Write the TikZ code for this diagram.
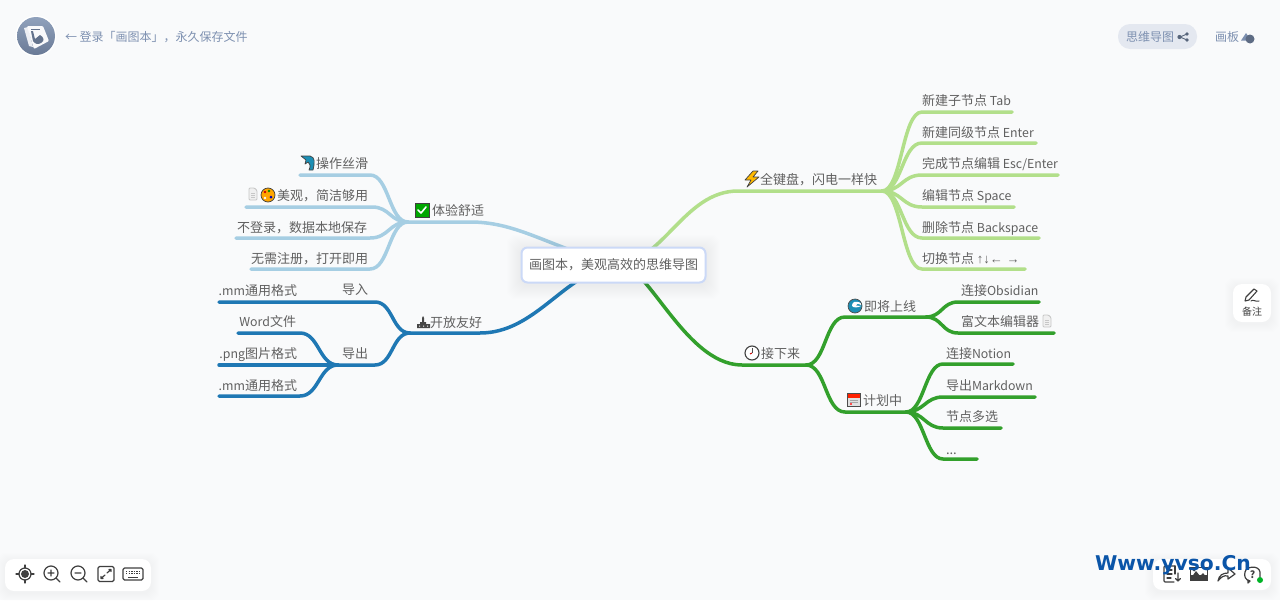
\documentclass[tikz,border=0pt]{standalone}
\usepackage{fontspec}
\setmainfont{Noto Sans CJK SC}
\newfontfamily\wmfont{DejaVu Sans}
\newfontfamily\lat{Noto Sans CJK SC}[Scale=0.95]
\newfontfamily\arw{Liberation Sans}
\usetikzlibrary{shapes.geometric}
\definecolor{bgc}{HTML}{F9FAFB}
\definecolor{txt}{HTML}{606060}
\definecolor{hdr}{HTML}{7D90B0}
\definecolor{lb}{HTML}{A6CEE3}
\definecolor{db}{HTML}{1F78B4}
\definecolor{lg}{HTML}{B2DF8A}
\definecolor{dg}{HTML}{33A02C}
\definecolor{ico}{HTML}{3F3F3F}
\definecolor{rootedge}{HTML}{CBD9F7}
\definecolor{teal}{HTML}{1C8FB5}
\definecolor{pill}{HTML}{E4E8F0}
\definecolor{mark}{HTML}{0B55A8}
\tikzset{
  x=1pt,y=-1pt,
  every node/.style={inner sep=0pt,outer sep=0pt},
  lbl/.style={text=txt,font=\fontsize{13}{15}\selectfont},
  lw/.style={lbl,anchor=base west},
  le/.style={lbl,anchor=base east},
  hd/.style={text=hdr,font=\fontsize{12}{14}\selectfont,anchor=base west},
  wire/.style={line width=3.5pt,line cap=round,line join=round},
  lbw/.style={wire,draw=lb},
  dbw/.style={wire,draw=db},
  lgw/.style={wire,draw=lg},
  dgw/.style={wire,draw=dg},
  tool/.style={draw=ico,line width=1.2pt,line cap=round,line join=round},
  panel/.style={fill=white,rounded corners=9pt,draw=none},
}
% #1 name, #2 style, #3 free x, #4 knee x, #5 y, #6 junction, #7 control offset
\newcommand\twig[7]{%
  \coordinate (#1-e) at (#3,#5);
  \coordinate (#1-k) at (#4,#5);
  \draw[#2] (#1-e) -- (#1-k) .. controls +(#7,0) and +(-#7,0) .. (#6);
}
\newcommand\softbox[5]{% x1 y1 x2 y2 spread
  \foreach \s in {1,...,#5}{
    \fill[hdr,opacity=0.006,rounded corners=9pt]
      (#1-\s,#2-\s+2) rectangle (#3+\s,#4+\s+2);
  }
}
\newcommand\docicon[2]{%
  \begin{scope}[shift={(#1,#2)}]
    \draw[black!22,fill=black!6,line width=0.9pt,rounded corners=1pt,line join=round]
      (-4,-6) -- (1.5,-6) -- (4,-3.5) -- (4,6) -- (-4,6) -- cycle;
    \draw[black!22,line width=0.7pt] (-2,-1) -- (2,-1) (-2,1) -- (2,1) (-2,3) -- (2,3);
  \end{scope}
}
\begin{document}
\begin{tikzpicture}
\useasboundingbox (0,0) rectangle (1280,600);
\fill[bgc] (0,0) rectangle (1280,600);

% ---- junctions and main-branch anchors
\coordinate (hub) at (613,265);
\coordinate (j1) at (408,222);
\coordinate (j2) at (410,333);
\coordinate (j3) at (338,365);
\coordinate (j4) at (882,191);
\coordinate (j5) at (806,365);
\coordinate (j6) at (926,317);
\coordinate (j7) at (906,412);
\coordinate (k1) at (470,222);
\coordinate (k2) at (480,333);
\coordinate (k4) at (738,191);
\coordinate (k5) at (742,365);
\coordinate (k6) at (845,317);
\coordinate (k7) at (845,412);
\coordinate (k3) at (375,365);

% ---- main branches
\draw[lbw] (j1) -- (k1) .. controls +(45,0) and +(-70,-22) .. (hub);
\draw[dbw] (j2) -- (k2) .. controls +(55,0) and +(-50,10) .. (hub);
\draw[lgw] (j4) -- (k4) .. controls +(-55,0) and +(50,0) .. (hub);
\draw[dgw] (j5) -- (k5) .. controls +(-60,0) and +(30,-15) .. (hub);

% ---- light blue
\twig{a1}{lbw}{300}{370}{175}{j1}{19}
\twig{a2}{lbw}{246}{372}{207}{j1}{18}
\twig{a3}{lbw}{236}{370}{238}{j1}{19}
\twig{a4}{lbw}{251}{370}{269}{j1}{19}
% ---- blue
\twig{b1}{dbw}{219}{375}{302}{j2}{18}
\draw[dbw] (j2) .. controls +(-18,0) and +(18,0) .. (k3) -- (j3);
\twig{b2}{dbw}{238}{300}{333}{j3}{19}
\twig{b3}{dbw}{219}{300}{365}{j3}{19}
\twig{b4}{dbw}{219}{300}{396}{j3}{19}
% ---- light green
\twig{c1}{lgw}{1012}{922}{112}{j4}{-20}
\twig{c2}{lgw}{1036}{922}{143}{j4}{-20}
\twig{c3}{lgw}{1058}{922}{175}{j4}{-20}
\twig{c4}{lgw}{1014}{922}{207}{j4}{-20}
\twig{c5}{lgw}{1039}{922}{238}{j4}{-20}
\twig{c6}{lgw}{1025}{922}{269}{j4}{-20}
% ---- green
\draw[dgw] (j6) -- (k6) .. controls +(-20,0) and +(20,0) .. (j5);
\draw[dgw] (j7) -- (k7) .. controls +(-20,0) and +(20,0) .. (j5);
\twig{d1}{dgw}{1039}{958}{302}{j6}{-16}
\twig{d2}{dgw}{1054}{958}{333}{j6}{-16}
\twig{d3}{dgw}{1013}{943}{364}{j7}{-18}
\twig{d4}{dgw}{1035}{943}{397}{j7}{-18}
\twig{d5}{dgw}{1001}{943}{428}{j7}{-18}
\twig{d6}{dgw}{977}{943}{459}{j7}{-18}

% ---- root
\softbox{521}{247}{706}{283}{14}
\node[draw=rootedge,line width=2pt,fill=white,rounded corners=6pt,
      minimum width=184pt,minimum height=35pt,lbl] (root) at (613.5,265) {画图本，美观高效的思维导图};

% ---- labels
\node[le] (n1) at (368,168) {操作丝滑};
\node[le] (n2) at (368,200) {美观，简洁够用};
\node[le] (n3) at (367,232) {不登录，数据本地保存};
\node[le] (n4) at (368,263) {无需注册，打开即用};
\node[lw] (n5) at (432,215) {体验舒适};
\node[lw] (n6) at (430,327) {开放友好};
\node[le] (n7) at (368,294) {导入};
\node[le] (n8) at (297,295) {{\lat .mm}通用格式};
\node[le] (n9) at (368,358) {导出};
\node[le] (n10) at (296,326) {{\lat Word}文件};
\node[le] (n11) at (297,358) {{\lat .png}图片格式};
\node[le] (n12) at (297,390) {{\lat .mm}通用格式};
\node[lw] (n13) at (760,184) {全键盘，闪电一样快};
\node[lw] (n14) at (922,105) {新建子节点 {\lat Tab}};
\node[lw] (n15) at (922,137) {新建同级节点 {\lat Enter}};
\node[lw] (n16) at (922,168) {完成节点编辑 {\lat Esc/Enter}};
\node[lw] (n17) at (922,200) {编辑节点 {\lat Space}};
\node[lw] (n18) at (922,232) {删除节点 {\lat Backspace}};
\node[lw] (n19) at (922,263) {切换节点 {\arw ↑↓← →}};
\node[lw] (n20) at (761,358) {接下来};
\node[lw] (n21) at (864,311) {即将上线};
\node[lw] (n22) at (863,405) {计划中};
\node[lw] (n23) at (961,295) {连接{\lat Obsidian}};
\node[lw] (n24) at (961,326) {富文本编辑器};
\node[lw] (n25) at (946,358) {连接{\lat Notion}};
\node[lw] (n26) at (946,390) {导出{\lat Markdown}};
\node[lw] (n27) at (946,421) {节点多选};
\node[lw] (n28) at (946,454) {...};

% ---- icons in the map
\begin{scope}[shift={(308,163)}] % dolphin
  \fill[draw=black!75,line width=0.7pt,fill=teal,line join=round]
    (-7,-7) -- (2,-7) .. controls (7,-6) and (7,-1) .. (5,7) -- (1,7)
    .. controls (3,3) and (2,0) .. (0,-1) -- (-3,1) -- (-2,-3) -- cycle;
\end{scope}
\docicon{253}{194}
\begin{scope}[shift={(268,195)}] % palette
  \fill[draw=black!75,line width=0.7pt,fill=orange!70!yellow] (0,0) ellipse (7pt and 7pt);
  \fill[red!80!black] (-3,-3) circle (1.3pt);
  \fill[green!55!black] (1,-4) circle (1.3pt);
  \fill[blue!70!black] (3,2) circle (1.5pt);
  \fill[bgc] (-3,3) circle (1.4pt);
\end{scope}
\begin{scope}[shift={(422,210)}] % check
  \fill[draw=black!75,line width=0.9pt,fill=green!65!black] (-7,-7) rectangle (7,7);
  \draw[white,line width=1.6pt,line cap=round,line join=round] (-4,0) -- (-1,3) -- (4,-3);
\end{scope}
\begin{scope}[shift={(423,322)}] % harbour
  \fill[black!72] (-6,6) -- (-6,2) -- (-3,2) -- (-3,0) -- (-1,0) -- (-1,-4) -- (0,-6) -- (1,-4) -- (1,0) -- (3,0) -- (3,2) -- (7,2) -- (7,6) -- cycle;
  \fill[white] (-4,3.5) rectangle (-3,4.5) (0,3.5) rectangle (1,4.5) (4,3.5) rectangle (5,4.5);
\end{scope}
\begin{scope}[shift={(752,179)}] % lightning
  \fill[draw=black!75,line width=0.7pt,fill=orange!55!yellow,line join=round]
    (1,-8) -- (-7,1) -- (-1,1) -- (-5,8) -- (7,-2) -- (1,-2) -- (6,-8) -- cycle;
\end{scope}
\begin{scope}[shift={(752,353)}] % clock
  \fill[draw=black!75,line width=1.1pt,fill=white] (0,0) circle (7pt);
  \draw[black!70,line width=0.8pt] (0,-5) -- (0,0);
  \draw[red!80!black,line width=1pt] (0,0) -- (-2,1);
\end{scope}
\begin{scope}[shift={(855,306)}] % wave
  \fill[draw=black!70,line width=0.7pt,fill=teal] (0,0) circle (7pt);
  \fill[white] (-1,-4) .. controls (3,-5) and (7,-3) .. (6,-1) .. controls (3,-3) and (1,-2) .. (1,-0.5)
     -- (6,0) .. controls (3,2) and (-3,2) .. (-3,-0.5) .. controls (-3,-2) and (-2,-3.5) .. (-1,-4) -- cycle;
\end{scope}
\begin{scope}[shift={(854,400)}] % calendar
  \fill[draw=black!70,line width=0.8pt,fill=black!12] (-6.5,-6.5) rectangle (6.5,6.5);
  \fill[red!75!orange] (-6,-6) rectangle (6,-2.5);
  \draw[black!35,line width=0.8pt] (-4,0) -- (4,0) (-4,2.5) -- (4,2.5);
  \fill[red!70] (-4,3) rectangle (-2,4.6);
\end{scope}
\docicon{1047}{321}

% ---- header
\fill[white] (36,36) circle (20.5pt);
\shade[top color=hdr!85!white,bottom color=hdr!85!black] (36,36) circle (19pt);
\fill[white!85!hdr] (24,28) -- (28,27) -- (33,47) -- (29,46) -- cycle;
\fill[white!95!hdr,rounded corners=1pt] (27,26) -- (43,26) -- (49,41) -- (34,49) -- cycle;
\fill[hdr!80!black] (31,31) -- (33,31) -- (35,39) -- (40,35) .. controls (44,37) and (45,41) .. (41,43) .. controls (38,45) and (35,44) .. (33,41) -- cycle;
\fill[hdr!80!black] (31,28.5) rectangle (40,29.3);
\node[hd] (login) at (65,41) {← 登录「画图本」，永久保存文件};
\fill[pill,rounded corners=12pt] (1118,24) rectangle (1197,49);
\node[hd] (mind) at (1126,41) {思维导图};
\begin{scope}[shift={(1183,37)}]
  \draw[hdr!70!black,line width=0.9pt] (4,-3) -- (-3,0) -- (4,3);
  \fill[hdr!70!black] (-3.5,0) circle (2.1pt) (4,-3) circle (1.9pt) (4,3) circle (1.9pt);
\end{scope}
\node[hd] (board) at (1215,41) {画板};
\fill[hdr] (1246,33) -- (1241,40.5) -- (1251,40.5) -- cycle;
\fill[hdr!75!black] (1250,39) circle (4.5pt);

% ---- note button
\softbox{1233}{284}{1271}{322}{8}
\fill[panel] (1233,284) rectangle (1271,322);
\begin{scope}[shift={(1252,296)}]
  \draw[tool,line width=1.1pt] (-7,5) -- (-6,1) -- (2,-7) -- (5,-5) -- (-3,4) -- cycle;
  \draw[tool,line width=1pt] (-1,5) .. controls (1,3) and (3,6) .. (7,5);
\end{scope}
\node[text=black!75,font=\fontsize{10}{12}\selectfont] (note) at (1252,312) {备注};

% ---- bottom-left toolbar
\softbox{5}{559}{151}{591}{8}
\fill[panel] (5,559) rectangle (151,591);
\begin{scope}[shift={(25,574)}]
  \draw[tool] (0,0) circle (6pt);
  \fill[ico] (0,0) circle (4pt);
  \draw[tool] (0,-9) -- (0,-6) (0,6) -- (0,9) (-9,0) -- (-6,0) (6,0) -- (9,0);
\end{scope}
\begin{scope}[shift={(51,573)}]
  \draw[tool] (0,0) circle (7pt);
  \draw[tool] (-3,0) -- (3,0) (0,-3) -- (0,3) (5,5) -- (9,9);
\end{scope}
\begin{scope}[shift={(78,573)}]
  \draw[tool] (0,0) circle (7pt);
  \draw[tool] (-3,0) -- (3,0) (5,5) -- (9,9);
\end{scope}
\begin{scope}[shift={(106,574)}]
  \draw[tool,rounded corners=1.5pt] (-8,-7.5) rectangle (8,7.5);
  \draw[tool] (1,-1) -- (5,-4.5) (3,-4.5) -- (5,-4.5) -- (5,-2.5);
  \draw[tool] (-1,1) -- (-5,4.5) (-5,2.5) -- (-5,4.5) -- (-3,4.5);
\end{scope}
\begin{scope}[shift={(133,574)}]
  \draw[tool,rounded corners=1.5pt] (-10,-6) rectangle (10,6);
  \draw[ico,line width=1pt,dash pattern=on 1.4pt off 1.2pt] (-7,-3) -- (7,-3) (-7,-0.5) -- (7,-0.5);
  \draw[ico,line width=1pt] (-5,3) -- (5,3);
\end{scope}

% ---- bottom-right toolbar
\softbox{1153}{559}{1271}{590}{8}
\fill[panel] (1153,559) rectangle (1271,590);
\begin{scope}[shift={(1172,574)}]
  \draw[tool,rounded corners=1pt] (3,-8) -- (-8,-8) -- (-8,8) -- (2,8);
  \draw[tool] (3,-8) -- (3,0);
  \draw[tool] (-5,-4) -- (0,-4) (-5,0) -- (0,0) (-5,4) -- (-1,4);
  \draw[tool] (6,-1) -- (6,7) (3.5,4.5) -- (6,7) -- (8.5,4.5);
\end{scope}
\begin{scope}[shift={(1199,574)}]
  \fill[ico] (-9,-7) rectangle (9,7);
  \fill[white] (-8,-6) rectangle (8,1);
  \fill[ico] (-8,4) -- (-3,-3) -- (1,2) -- (4,-1) -- (8,4) -- cycle;
  \fill[ico] (-5,-4) circle (1.5pt);
\end{scope}
\begin{scope}[shift={(1226,574)}]
  \draw[tool] (-8,7) .. controls (-7,1) and (-3,-1) .. (2,-1) -- (2,-6) -- (9,0) -- (2,5) -- (2,2) .. controls (-2,1) and (-5,3) .. (-8,7) -- cycle;
\end{scope}
\begin{scope}[shift={(1253,574)}]
  \draw[tool] (-3,7) .. controls (-8,6) and (-9,2) .. (-8,-2) .. controls (-7,-8) and (6,-9) .. (7,-2) -- (7,3);
  \draw[tool] (-3,7) -- (-5,9) -- (-5,6);
  \node[text=ico,font=\fontsize{10}{11}\selectfont\bfseries] (help) at (-0.5,1) {?};
\end{scope}
\fill[green!65!black!85!cyan] (1260,580) circle (3pt);

% ---- watermark
\node[text=mark,font=\wmfont\bfseries\fontsize{20.3}{24}\selectfont,anchor=base west] (wmark) at (1095,570) {Www.yvso.Cn};
\end{tikzpicture}
\end{document}
